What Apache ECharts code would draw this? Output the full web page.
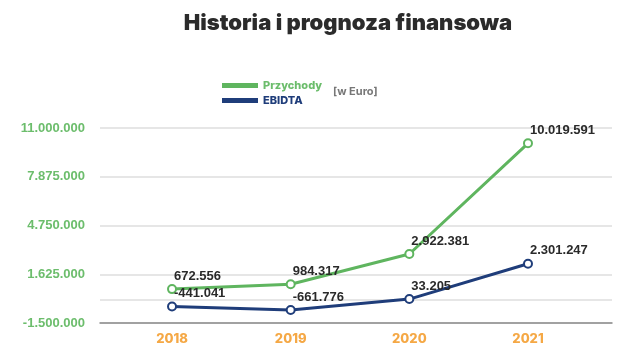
<!DOCTYPE html>
<html><head><meta charset="utf-8">
<script src="https://cdn.jsdelivr.net/npm/echarts@6/dist/echarts.min.js"></script>
<style>html,body{margin:0;padding:0;background:#fff}#c{width:640px;height:359px}</style>
</head><body><div id="c"></div>
<script>
const years = [2018, 2019, 2020, 2021];
const przychody = [672556, 984317, 2922381, 10019591];
const ebidta = [-441041, -661776, 33205, 2301247];
const yTicks = [-1500000, 1625000, 4750000, 7875000, 11000000];

function fmt(v){
  const s = Math.abs(Math.round(v)).toString().replace(/\B(?=(\d{3})+(?!\d))/g, '.');
  return (v < 0 ? '-' : '') + s;
}
const lbl = {
  show: true, position: [7, -8], align: 'left', verticalAlign: 'middle',
  fontFamily: 'Liberation Sans', fontSize: 13, fontWeight: 'bold', color: '#2a2a2a',
  formatter: p => fmt(p.value[1])
};
const chart = echarts.init(document.getElementById('c'), null, {renderer: 'canvas'});
chart.setOption({
  animation: false,
  title: {
    text: 'Historia i prognoza finansowa', left: 343, top: 7, textAlign: 'center',
    textStyle: {fontFamily: 'Inter', fontWeight: 900, fontSize: 22, color: '#2b2b2b'}
  },
  legend: {
    orient: 'vertical', left: 217, top: 75, itemWidth: 36, itemHeight: 5, itemGap: 4,
    icon: 'rect', itemStyle: {borderWidth: 0},
    textStyle: {fontFamily: 'Inter', fontWeight: 800, fontSize: 11},
    data: [
      {name: 'Przychody', textStyle: {color: '#6cbd6c'}},
      {name: 'EBIDTA', textStyle: {color: '#1f3d7a'}}
    ]
  },
  graphic: [{
    type: 'text', left: 333, top: 86,
    style: {text: '[w Euro]', fontFamily: 'Inter', fontWeight: 'bold', fontSize: 11, fill: '#777'}
  }],
  grid: {left: 100, right: 28, top: 128, bottom: 36},
  xAxis: {
    type: 'value', min: 2017.393, max: 2021.708,
    splitLine: {show: false},
    axisLine: {show: true, onZero: false, lineStyle: {color: '#8a8a8a', width: 1.5}},
    axisTick: {show: false},
    axisLabel: {
      customValues: years, margin: 10,
      fontFamily: 'Inter', fontWeight: 800, fontSize: 13, color: '#f5a845',
      formatter: v => String(Math.round(v))
    }
  },
  yAxis: {
    type: 'value', min: -1500000, max: 11000000, interval: 3125000,
    axisLine: {show: false}, axisTick: {show: false},
    splitLine: {lineStyle: {color: '#dedede', width: 1.5}},
    axisLabel: {
      margin: 15, fontFamily: 'Liberation Sans', fontWeight: 'bold', fontSize: 13, color: '#6cbd6c',
      formatter: v => fmt(v)
    }
  },
  series: [
    {
      name: 'Przychody', type: 'line', data: years.map((y, i) => [y, przychody[i]]),
      symbol: 'emptyCircle', symbolSize: 8, color: '#5fb55f',
      lineStyle: {width: 3, color: '#5fb55f'}, itemStyle: {color: '#5fb55f', borderWidth: 2},
      label: lbl, z: 3,
      markLine: {
        silent: true, symbol: 'none', label: {show: false},
        lineStyle: {color: '#dedede', width: 1.5, type: 'solid'},
        data: [{yAxis: 0}], z: 1
      }
    },
    {
      name: 'EBIDTA', type: 'line', data: years.map((y, i) => [y, ebidta[i]]),
      symbol: 'emptyCircle', symbolSize: 8, color: '#1f3d7a',
      lineStyle: {width: 3, color: '#1f3d7a'}, itemStyle: {color: '#1f3d7a', borderWidth: 2},
      label: lbl, z: 3
    }
  ]
});
</script></body></html>
